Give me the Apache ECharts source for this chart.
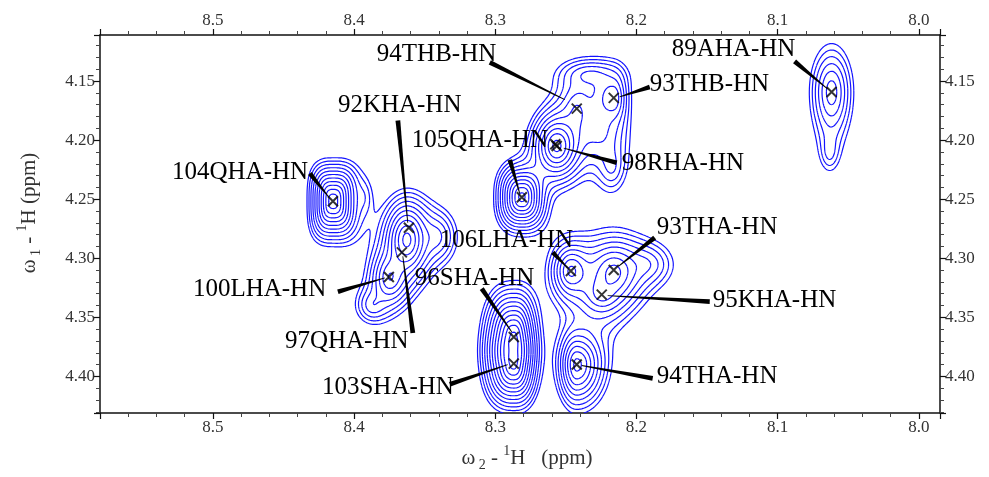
<!DOCTYPE html>
<html><head><meta charset="utf-8">
<script src="https://cdn.jsdelivr.net/npm/echarts@6/dist/echarts.min.js"></script>
<style>html,body{margin:0;padding:0;background:#fff}#c{width:989px;height:477px}</style>
</head><body><div id="c"></div>
<script>
// ---- axis ranges (ppm) ----
const xRange = [7.985, 8.58];   // omega2 1H (inverted)
const yRange = [4.111, 4.431];  // omega1 1H (inverted)

// ---- picked peaks (cross marks) ----
const peakX = [8.0618, 8.2161, 8.2423, 8.2565, 8.2575, 8.2812, 8.4150, 8.3612, 8.3662, 8.3754, 8.2465, 8.2161, 8.2246, 8.2869, 8.2869, 8.2423];
const peakY = [4.1592, 4.1642, 4.1733, 4.2050, 4.2035, 4.2483, 4.2517, 4.2742, 4.2950, 4.3158, 4.3108, 4.3100, 4.3308, 4.3667, 4.3892, 4.3900];

// ---- peak annotations ----
const labelText = ['89AHA-HN','93THB-HN','94THB-HN','92KHA-HN','105QHA-HN','98RHA-HN','104QHA-HN','106LHA-HN','93THA-HN','95KHA-HN','96SHA-HN','100LHA-HN','97QHA-HN','103SHA-HN','94THA-HN'];
const labelX = [8.1750, 8.1906, 8.3839, 8.4115, 8.3591, 8.2104, 8.5290, 8.3393, 8.1857, 8.1460, 8.3570, 8.5142, 8.4490, 8.4228, 8.1857];
const labelY = [4.1233, 4.1525, 4.1275, 4.1708, 4.2000, 4.2200, 4.2275, 4.2850, 4.2742, 4.3358, 4.3175, 4.3267, 4.3708, 4.4092, 4.4000];
const leaderFromX = [8.0880, 8.1906, 8.3039, 8.3690, 8.2897, 8.2140, 8.4313, 8.2593, 8.1871, 8.1481, 8.3096, 8.4115, 8.3584, 8.3322, 8.1885];
const leaderFromY = [4.1333, 4.1550, 4.1342, 4.1833, 4.2167, 4.2192, 4.2283, 4.2950, 4.2825, 4.3367, 4.3258, 4.3283, 4.3633, 4.4067, 4.4017];
const leaderToX   = [8.0646, 8.2119, 8.2508, 8.3620, 8.2827, 8.2515, 8.4179, 8.2487, 8.2126, 8.2204, 8.2883, 8.3782, 8.3655, 8.2912, 8.2388];
const leaderToY   = [4.1567, 4.1633, 4.1658, 4.2700, 4.2450, 4.2067, 4.2483, 4.3083, 4.3067, 4.3317, 4.3625, 4.3167, 4.2983, 4.3900, 4.3908];

// ---- spectrum line-shape components ----
const compX   = [8.0618, 8.0632, 8.4150, 8.3924, 8.3627, 8.3747, 8.3407, 8.3874, 8.2812, 8.2565, 8.2423, 8.2161, 8.2175, 8.2331, 8.2260, 8.2869, 8.2869, 8.2423, 8.2465, 8.2161, 8.2246, 8.1920, 8.2260];
const compY   = [4.1592, 4.2108, 4.2517, 4.2483, 4.2842, 4.3167, 4.2817, 4.3400, 4.2483, 4.2050, 4.1733, 4.1642, 4.2233, 4.1442, 4.1942, 4.3667, 4.3900, 4.3900, 4.3108, 4.3117, 4.3308, 4.3050, 4.3483];
const compAmp = [5.2, 1.5, 24.5, 1.1, 16, 7, 3, 2.5, 22, 16, 3, 5, 2, 2.5, 2.5, 25, 25, 12, 8, 8, 4, 2.5, 0.8];
const compWL  = [0.0064, 0.0042, 0.0045, 0.0042, 0.0057, 0.0057, 0.0071, 0.0064, 0.0050, 0.0060, 0.0064, 0.0071, 0.0057, 0.0113, 0.0099, 0.0054, 0.0054, 0.0047, 0.0057, 0.0085, 0.0064, 0.0099, 0.0127];
const compWR  = [0.0064, 0.0042, 0.0050, 0.0042, 0.0057, 0.0057, 0.0071, 0.0064, 0.0050, 0.0060, 0.0064, 0.0042, 0.0057, 0.0113, 0.0099, 0.0043, 0.0043, 0.0071, 0.0064, 0.0085, 0.0064, 0.0099, 0.0127];
const compWU  = [0.0167, 0.0100, 0.0090, 0.0117, 0.0117, 0.0100, 0.0117, 0.0083, 0.0083, 0.0100, 0.0125, 0.0100, 0.0117, 0.0067, 0.0150, 0.0114, 0.0100, 0.0108, 0.0100, 0.0117, 0.0075, 0.0100, 0.0167];
const compWD  = [0.0183, 0.0100, 0.0094, 0.0117, 0.0117, 0.0100, 0.0117, 0.0083, 0.0083, 0.0100, 0.0125, 0.0100, 0.0117, 0.0067, 0.0150, 0.0100, 0.0100, 0.0125, 0.0100, 0.0117, 0.0075, 0.0100, 0.0167];
const compP   = [2, 2, 3, 2, 2, 2, 2, 2, 2.5, 2, 2, 2, 2, 2, 2, 2.5, 2.5, 2, 2, 2, 2, 2, 2];

// ---- contour levels ----
const contourLevels = [1, 1.35, 1.82, 2.46, 3.32, 4.48, 6.05, 8.17, 11.0, 14.9, 20.1, 27.1, 36.6, 49.4, 66.7];

// ---------- build spectrum grid ----------
const NX = 620, NY = 300;
const xs = new Float64Array(NX), ys = new Float64Array(NY);
for (let i = 0; i < NX; i++) xs[i] = xRange[0] + (xRange[1] - xRange[0]) * i / (NX - 1);
for (let j = 0; j < NY; j++) ys[j] = yRange[0] + (yRange[1] - yRange[0]) * j / (NY - 1);
const grid = new Float64Array(NX * NY);
for (let c = 0; c < compX.length; c++) {
  const p = compP[c];
  for (let j = 0; j < NY; j++) {
    const dy = ys[j] - compY[c];
    const ty = dy < 0 ? -dy / compWU[c] : dy / compWD[c];
    if (ty > 14) continue;
    for (let i = 0; i < NX; i++) {
      const dx = xs[i] - compX[c];
      const tx = dx > 0 ? dx / compWL[c] : -dx / compWR[c];
      if (tx > 14) continue;
      const t = Math.pow(Math.pow(tx, p) + Math.pow(ty, p), 1 / p);
      grid[j * NX + i] += compAmp[c] * Math.exp(1 - Math.sqrt(1 + t * t));
    }
  }
}
// ---------- marching squares ----------
function contour(level) {
  const segs = [];
  const ex = (i, a, b) => xs[i] + (level - a) / (b - a) * (xs[i + 1] - xs[i]);
  const ey = (j, a, b) => ys[j] + (level - a) / (b - a) * (ys[j + 1] - ys[j]);
  for (let j = 0; j < NY - 1; j++) {
    for (let i = 0; i < NX - 1; i++) {
      const v0 = grid[j * NX + i], v1 = grid[j * NX + i + 1], v2 = grid[(j + 1) * NX + i + 1], v3 = grid[(j + 1) * NX + i];
      const code = (v0 >= level ? 1 : 0) | (v1 >= level ? 2 : 0) | (v2 >= level ? 4 : 0) | (v3 >= level ? 8 : 0);
      if (code === 0 || code === 15) continue;
      const E = [
        () => [ex(i, v0, v1), ys[j]],
        () => [xs[i + 1], ey(j, v1, v2)],
        () => [ex(i, v3, v2), ys[j + 1]],
        () => [xs[i], ey(j, v0, v3)]
      ];
      const add = (a, b) => { const p = E[a](), q = E[b](); segs.push(p[0], p[1], q[0], q[1]); };
      switch (code) {
        case 1: case 14: add(3, 0); break;
        case 2: case 13: add(0, 1); break;
        case 3: case 12: add(3, 1); break;
        case 4: case 11: add(1, 2); break;
        case 5: add(3, 0); add(1, 2); break;
        case 6: case 9: add(0, 2); break;
        case 7: case 8: add(2, 3); break;
        case 10: add(0, 1); add(2, 3); break;
      }
    }
  }
  return segs;
}
const contourSegs = contourLevels.map(contour);

const serif = '"Liberation Serif", "Times New Roman", serif';
const fmtX = v => v.toFixed(1), fmtY = v => v.toFixed(2);
function xAxisDef(pos) {
  return {
    type: 'value', position: pos, inverse: true, min: xRange[0], max: xRange[1],
    axisLine: { show: true, onZero: false, lineStyle: { color: '#111', width: 1.5 } },
    axisTick: { show: true, inside: false, length: 6, lineStyle: { color: '#111', width: 1.2 } },
    minorTick: { show: true, splitNumber: 5, length: 4, lineStyle: { color: '#444', width: 1 } },
    splitLine: { show: false },
    axisLabel: { show: true, showMinLabel: false, showMaxLabel: false, formatter: fmtX, color: '#333', fontFamily: serif, fontSize: 17, margin: 6 }
  };
}
function yAxisDef(pos) {
  return {
    type: 'value', position: pos, inverse: true, min: yRange[0], max: yRange[1],
    axisLine: { show: true, onZero: false, lineStyle: { color: '#111', width: 1.5 } },
    axisTick: { show: true, inside: false, length: 6, lineStyle: { color: '#111', width: 1.2 } },
    minorTick: { show: true, splitNumber: 5, length: 4, lineStyle: { color: '#444', width: 1 } },
    splitLine: { show: false },
    axisLabel: { show: true, showMinLabel: false, showMaxLabel: false, formatter: fmtY, color: '#333', fontFamily: serif, fontSize: 17, margin: 5 }
  };
}
const richName = {
  a: { fontFamily: serif, fontSize: 21, color: '#333', lineHeight: 28, verticalAlign: 'middle' },
  b: { fontFamily: serif, fontSize: 14, color: '#333', lineHeight: 14, verticalAlign: 'bottom' },
  c: { fontFamily: serif, fontSize: 14, color: '#333', lineHeight: 14, verticalAlign: 'top' }
};
const xb = xAxisDef('bottom');
xb.name = '{a|ω}{b| 2}{a| - }{c|1}{a|H   (ppm)}';
xb.nameLocation = 'middle'; xb.nameGap = 31;
xb.nameTextStyle = { rich: richName, padding: [0, 0, 0, 14] };
const yl = yAxisDef('left');
yl.name = '{a|ω}{b| 1}{a| - }{c|1}{a|H (ppm)}';
yl.nameLocation = 'middle'; yl.nameGap = 57;
yl.nameTextStyle = { rich: richName, padding: [0, 0, 0, 22] };

const chart = echarts.init(document.getElementById('c'), null, { renderer: 'canvas' });
chart.setOption({
  animation: false,
  backgroundColor: '#fff',
  grid: { left: 100, right: 49, top: 35, bottom: 58, containLabel: false },
  xAxis: [xb, xAxisDef('top')],
  yAxis: [yl, yAxisDef('right')],
  series: [
    {
      type: 'custom', name: 'contours', coordinateSystem: 'cartesian2d', clip: true, z: 2, silent: true,
      data: contourLevels.map((l, k) => [xRange[0], yRange[0], k]),
      renderItem(params, api) {
        const s = contourSegs[api.value(2)];
        let d = '';
        for (let m = 0; m < s.length; m += 4) {
          const p = api.coord([s[m], s[m + 1]]), q = api.coord([s[m + 2], s[m + 3]]);
          d += 'M' + p[0].toFixed(2) + ' ' + p[1].toFixed(2) + 'L' + q[0].toFixed(2) + ' ' + q[1].toFixed(2);
        }
        return { type: 'path', shape: { pathData: d }, style: { stroke: '#1414ff', fill: null, lineWidth: 1.2 } };
      }
    },
    {
      type: 'custom', name: 'labels', coordinateSystem: 'cartesian2d', clip: false, z: 4, silent: true,
      data: labelText.map((t, i) => [labelX[i], labelY[i], i]),
      renderItem(params, api) {
        const i = api.value(2);
        const a = api.coord([leaderFromX[i], leaderFromY[i]]);
        const b = api.coord([leaderToX[i], leaderToY[i]]);
        const dx = b[0] - a[0], dy = b[1] - a[1], L = Math.hypot(dx, dy) || 1;
        const nx = -dy / L, ny = dx / L, w0 = 2.4, w1 = 0.4;
        const pts = [[a[0] + nx * w0, a[1] + ny * w0], [b[0] + nx * w1, b[1] + ny * w1], [b[0] - nx * w1, b[1] - ny * w1], [a[0] - nx * w0, a[1] - ny * w0]];
        const t = api.coord([labelX[i], labelY[i]]);
        return { type: 'group', children: [
          { type: 'polygon', shape: { points: pts }, style: { fill: '#000' } },
          { type: 'text', x: t[0], y: t[1], style: { text: labelText[i], fill: '#000', font: '25px ' + serif, align: 'left', verticalAlign: 'middle' } }
        ] };
      }
    },
    {
      type: 'scatter', name: 'peaks', z: 5, silent: true,
      data: peakX.map((x, i) => [x, peakY[i]]),
      symbol: 'path://M0,0L10,10M10,0L0,10', symbolSize: 10,
      itemStyle: { color: 'none', borderColor: '#000', borderWidth: 2 }
    }
  ]
});
</script></body></html>
